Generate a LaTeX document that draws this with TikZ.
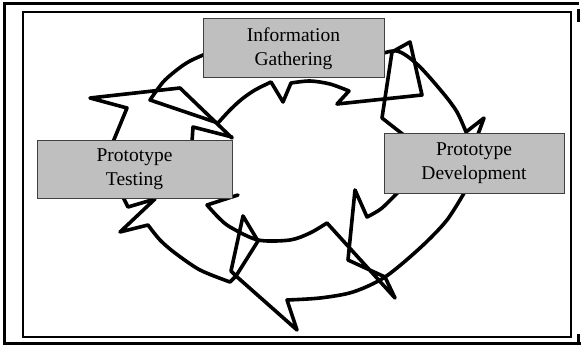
\documentclass[tikz,border=0pt]{standalone}
\usepackage{fontspec}
\setmainfont{Liberation Serif}
\usepackage{tikz}

\begin{document}
\begin{tikzpicture}[x=1pt,y=-1pt,
		ring/.style={line width=3.6pt,line join=round,line cap=round},
		stage/.style={draw=black!75,line width=1pt,fill=black!25,rectangle,align=center,inner sep=0pt,font=\fontsize{19.5}{24}\selectfont}]
		\useasboundingbox (0,0) rectangle (581,345);

		\draw [line width=3pt] (579,4) -- (4,4) -- (4,343) -- (581,343);
		\draw [line width=3pt] (578,9) -- (578,22);
		\draw [line width=3pt] (578,334) -- (578,343);
		\draw [line width=1.8pt] (23,12) rectangle (571,337);

		\draw [ring] (113,142) -- (127,108) -- (90,98) -- (180,88) -- (232,138);
		\draw [ring] (192,142) -- (193,127) -- (232,137);

		\draw [ring] plot[smooth] coordinates {(210,52) (190,61) (178,69) (165,80) (157,90) (150,100)}
			-- (218,123) --plot[smooth] coordinates {(218,123) (230,110) (242,99) (255,90) (271,82)}
			-- (283,102) -- (291,83) --plot[smooth] coordinates {(291,83) (310,81) (330,84) (349,91)}
			-- (337,104) -- (422,95) -- (410,42) -- (392,52) -- (382,118) -- (405,136);
		\draw [ring] plot[smooth] coordinates {(375,56) (397,51) (418,65) (443,93) (457,112) (466,132)}
			-- (484,118) -- (477,137);

		\draw [ring] (238,195) -- (207,205)
			--plot[smooth] coordinates {(207,205) (218,217) (230,227) (258,240) (290,240) (310,233) (327,223)}
			-- (395,298) -- (385,277) -- (348,260) -- (355,190) -- (367,217)
			--plot[smooth] coordinates {(367,217) (382,208) (402,188)};
		\draw [ring] (236,276) -- (297,330) -- (287,300)
			--plot[smooth] coordinates {(287,300) (320,298) (353,292) (385,277) (420,248) (447,220) (467,188)};
		\draw [ring] (236,276) -- (231,271) -- (243,216) -- (258,241) -- cycle;
		\draw [ring] (122,195) -- (128,207) -- (155,199) -- (120,232) -- (148,225)
			--plot[smooth] coordinates {(148,225) (160,240) (175,253) (200,270) (230,282)} -- (236,276);

		\node [stage,minimum width=181pt,minimum height=59pt] (gather) at (293.5,48.5) {Information\\Gathering};
		\node [stage,minimum width=195pt,minimum height=58pt] (test) at (134.5,169) {Prototype\\Testing};
		\node [stage,minimum width=180pt,minimum height=60pt] (develop) at (474,163) {Prototype\\Development};
	\end{tikzpicture}
\end{document}
